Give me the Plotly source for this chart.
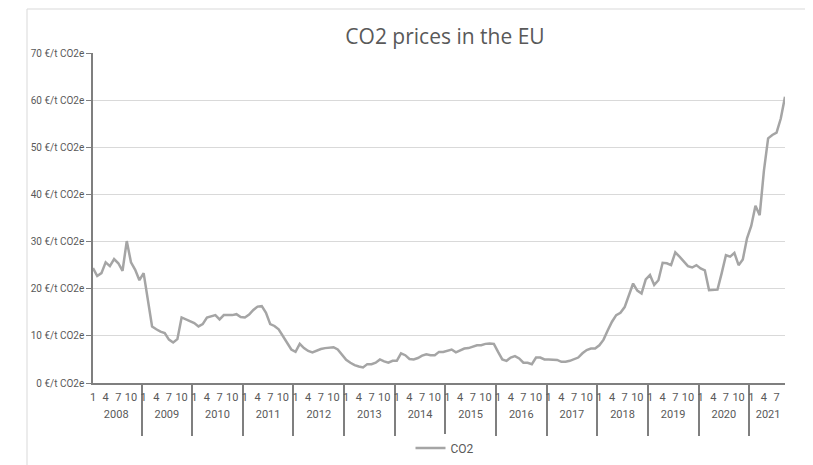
import plotly.graph_objects as go

years = [2008, 2009, 2010, 2011, 2012, 2013, 2014, 2015, 2016, 2017, 2018, 2019, 2020, 2021]
month_labels = ["1", "", "", "4", "", "", "7", "", "", "10", "", ""]

p2008 = [24.4, 22.7, 23.3, 25.6, 24.8, 26.3, 25.4, 23.8, 30.1, 25.6, 24.0, 21.8]
p2009 = [23.3, 17.5, 12.0, 11.4, 10.9, 10.6, 9.2, 8.6, 9.3, 13.9, 13.5, 13.2]
p2010 = [12.7, 12.0, 12.5, 13.9, 14.2, 14.4, 13.5, 14.4, 14.4, 14.4, 14.6, 14.0]
p2011 = [13.9, 14.5, 15.5, 16.2, 16.3, 14.9, 12.5, 12.1, 11.4, 10.0, 8.6, 7.1]
p2012 = [6.6, 8.3, 7.4, 6.8, 6.5, 6.9, 7.2, 7.4, 7.5, 7.6, 7.1, 5.9]
p2013 = [4.9, 4.3, 3.8, 3.5, 3.3, 4.0, 4.0, 4.3, 5.0, 4.6, 4.3, 4.7]
p2014 = [4.7, 6.3, 5.9, 5.1, 5.0, 5.3, 5.8, 6.1, 5.9, 5.9, 6.6, 6.6]
p2015 = [6.8, 7.1, 6.5, 6.9, 7.3, 7.4, 7.7, 8.0, 8.0, 8.3, 8.4, 8.3]
p2016 = [6.6, 5.0, 4.7, 5.4, 5.7, 5.2, 4.3, 4.3, 4.0, 5.4, 5.4, 5.0]
p2017 = [5.0, 5.0, 4.9, 4.5, 4.5, 4.7, 5.0, 5.4, 6.3, 7.0, 7.3, 7.3]
p2018 = [8.0, 9.2, 11.2, 13.0, 14.4, 14.9, 16.1, 18.5, 21.1, 19.6, 19.0, 22.0]
p2019 = [22.9, 20.8, 21.8, 25.5, 25.4, 25.0, 27.7, 26.8, 25.7, 24.8, 24.5, 25.0]
p2020 = [24.3, 23.9, 19.7, 19.7, 19.8, 23.3, 27.1, 26.8, 27.6, 25.0, 26.2, 30.7]
p2021 = [33.3, 37.6, 35.6, 45.0, 51.9, 52.6, 53.1, 56.1, 60.7]

series = [p2008, p2009, p2010, p2011, p2012, p2013, p2014, p2015,
          p2016, p2017, p2018, p2019, p2020, p2021]

# blank month slots get unique whitespace labels; slot 2 carries a taller blank
# so the year row sits lower, as in the reference
SPACER = '<span style="font-size:15px">&nbsp;</span>'
x_year, x_month, y_vals = [], [], []
for yr, vals in zip(years, series):
    for m, v in enumerate(vals):
        if month_labels[m]:
            lab = month_labels[m]
        elif m == 1:
            lab = SPACER
        else:
            lab = " " * (m + 1)
        x_year.append(str(yr) + "<br>&nbsp;")
        x_month.append(lab)
        y_vals.append(v)

TXT = "#595959"
AX = "#7f7f7f"
FONT = "Liberation Sans Narrow, Roboto, sans-serif"

# the page adds an 8px body offset; plot area spans 85..777 x 45..375 in figure px
L, R, T, B = 85, 36, 45, 90
PW, PH = 813 - L - R, 465 - T - B

fig = go.Figure()
fig.add_trace(go.Scatter(
    x=[x_year, x_month], y=y_vals, mode="lines", name="CO2",
    line=dict(color="#a5a5a5", width=2.5),
))

fig.update_layout(
    width=813, height=465,
    margin=dict(l=L, r=R, t=T, b=B),
    paper_bgcolor="white", plot_bgcolor="white",
    font=dict(family=FONT, size=10, color=TXT),
    title=dict(text="CO2 prices in the EU", x=437 / 813, xanchor="center", xref="container",
               y=1 - 29 / 465, yanchor="middle", yref="container",
               font=dict(family="Open Sans", size=21, color=TXT)),
    showlegend=True,
    legend=dict(orientation="h", xref="container", x=437 / 813, xanchor="center",
                yref="container", y=1 - 440 / 465, yanchor="middle",
                font=dict(family=FONT, size=12, color=TXT)),
)
fig.update_xaxes(
    type="multicategory", tickmode="linear", dtick=1, tick0=0, tickangle=0,
    automargin=False, ticklabelstandoff=3,
    showgrid=False, showline=True, linecolor=AX, linewidth=1.5,
    showdividers=True, dividercolor=AX, dividerwidth=1.5,
    ticks="", tickfont=dict(family=FONT, size=11, color=TXT),
)
fig.update_yaxes(
    range=[0, 70], dtick=10, ticksuffix=" €/t CO2e", automargin=False,
    showgrid=True, gridcolor="#d9d9d9", gridwidth=1, zeroline=False,
    showline=True, linecolor=AX, linewidth=1.5,
    ticks="outside", ticklen=5, tickcolor=AX,
    tickfont=dict(family=FONT, size=10, color=TXT),
)

# light outer chart border (left and top edges visible)
bx = (19 - L) / PW
by = 1 + (T - 1) / PH
fig.add_shape(type="line", xref="paper", yref="paper",
              x0=bx, x1=bx, y0=-(B + 10) / PH, y1=by,
              line=dict(color="#d9d9d9", width=1))
fig.add_shape(type="line", xref="paper", yref="paper",
              x0=bx, x1=1 + (R + 10) / PW, y0=by, y1=by,
              line=dict(color="#d9d9d9", width=1))

fig.write_html("out.html")
